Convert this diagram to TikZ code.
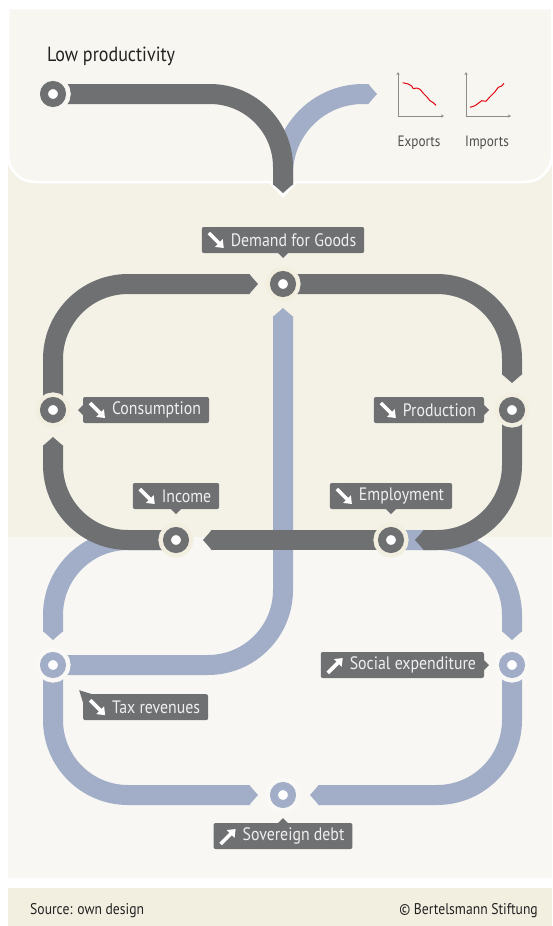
\documentclass[tikz,border=0pt]{standalone}
\usepackage{fontspec}
\setmainfont{PT Sans}[FakeStretch=0.88]
\usetikzlibrary{arrows.meta,positioning,calc}

\definecolor{bandgray}{HTML}{6F7072}
\definecolor{bandblue}{HTML}{A2AEC8}
\definecolor{lblgray}{HTML}{6F7072}
\definecolor{lbltext}{HTML}{EFEFEF}
\definecolor{toppanel}{HTML}{F7F6F1}
\definecolor{midpanel}{HTML}{F4F2E7}
\definecolor{lowpanel}{HTML}{F8F7F3}
\definecolor{footpanel}{HTML}{F2EFE1}
\definecolor{haloup}{HTML}{F2EFE0}
\definecolor{halolow}{HTML}{FAF9F6}
\definecolor{trendred}{HTML}{E30613}
\definecolor{axisgray}{HTML}{8C8C8C}
\definecolor{darktext}{HTML}{222222}

\pgfdeclarelayer{panels}
\pgfdeclarelayer{bands}
\pgfsetlayers{panels,bands,main}

\tikzset{
  gband/.style={draw=bandgray, line width=20pt, rounded corners=75pt,
                -{Triangle[length=9pt,width=20pt]}},
  bband/.style={gband, draw=bandblue},
  gnode/.style={circle, minimum size=18pt, inner sep=0pt, fill=white,
                draw=bandgray, line width=8pt,
                preaction={draw=haloup, line width=17pt}},
  bnode/.style={circle, minimum size=18pt, inner sep=0pt, fill=white,
                draw=bandblue, line width=8pt,
                preaction={draw=halolow, line width=17pt}},
  lbl/.style={fill=lblgray, rounded corners=2pt, text=lbltext,
              font=\fontsize{18}{20}\selectfont, inner xsep=8pt, inner ysep=0pt,
              minimum height=26pt, outer sep=0pt,
              execute at begin node={\hspace*{21pt}}},
  ptr/.style={fill=lblgray},
  icon/.style={draw=white, line width=3.6pt, -{Triangle[length=7pt,width=10.5pt]}},
  chartlbl/.style={text=darktext!80, font=\fontsize{15}{17}\selectfont, inner sep=0pt},
  foottxt/.style={text=darktext, font=\fontsize{15.5}{17}\selectfont, inner sep=0pt}
}

\begin{document}
\begin{tikzpicture}[x=1pt, y=-1pt]
\useasboundingbox (0,0) rectangle (552,926);

% panels
\begin{pgfonlayer}{panels}
  \fill[midpanel] (8,150) rectangle (552,537);
  \fill[lowpanel] (8,537) rectangle (552,878);
  \fill[footpanel] (8,888) rectangle (552,926);
  \path[fill=toppanel, draw=white, line width=2.5pt]
    (8,8) -- (552,8) -- (552,155) to[out=-90,in=0] (525,182) -- (296,182)
    -- (283,196) -- (270,182) -- (35,182) to[out=180,in=-90] (8,155) -- cycle;
\end{pgfonlayer}

% stations
\node[gnode, preaction={draw=toppanel, line width=17pt}] (lowprod) at (53,94) {};
\node[gnode] (dem) at (283,284) {};
\node[gnode] (cons) at (53,410) {};
\node[gnode] (prod) at (512,410) {};
\node[gnode] (inc) at (176,540) {};
\node[gnode] (emp) at (391,540) {};
\node[bnode] (tax) at (53,665) {};
\node[bnode] (soc) at (512,665) {};
\node[bnode] (debt) at (283,795) {};
\coordinate (merge) at (283,193);
\coordinate (split) at (283,185);
\coordinate (expend) at (377,94);

% flows
\begin{pgfonlayer}{bands}
  \draw[bband, rounded corners=80pt] (split) |- (expend);
  \draw[bband, shorten >=25pt] (inc.center) -| (tax.center);
  \draw[bband, shorten >=25pt] (emp.center) -| (soc.center);
  \draw[bband, shorten >=25pt] (tax.center) |- (debt.center);
  \draw[bband, shorten >=27pt] (soc.center) |- (debt.center);
  \draw[bband, shorten >=24pt] (tax.center) -| (dem.center);
  \draw[gband, rounded corners=73pt] (lowprod.center) -| (merge);
  \draw[gband, shorten >=25pt] (cons.center) |- (dem.center);
  \draw[gband, shorten >=27pt] (dem.center) -| (prod.center);
  \draw[gband, shorten >=24pt] (prod.center) |- (emp.center);
  \draw[gband, shorten >=27pt] (emp.center) -- (inc.center);
  \draw[gband, shorten >=27pt] (inc.center) -| (cons.center);
\end{pgfonlayer}

% labels
\node[lbl, above=18pt of dem] (demL) {Demand for Goods};
\node[lbl, right=17pt of cons] (consL) {Consumption};
\node[lbl, left=15pt of prod] (prodL) {Production};
\node[lbl, above=18pt of inc] (incL) {Income};
\node[lbl, above=18pt of emp] (empL) {Employment};
\node[lbl, below right=20pt and 21pt of tax] (taxL) {Tax revenues};
\node[lbl, left=15pt of soc] (socL) {Social expenditure};
\node[lbl, below=15pt of debt] (debtL) {Sovereign debt};

\foreach \l in {demL,incL,empL}
  \fill[ptr] ([xshift=-5pt]\l.south) -- ([xshift=5pt]\l.south) -- ([yshift=-5pt]\l.south) -- cycle;
\fill[ptr] ([xshift=-5pt]debtL.north) -- ([xshift=5pt]debtL.north) -- ([yshift=5pt]debtL.north) -- cycle;
\fill[ptr] ([yshift=-5pt]consL.west) -- ([yshift=5pt]consL.west) -- ([xshift=-5pt]consL.west) -- cycle;
\foreach \l in {prodL,socL}
  \fill[ptr] ([yshift=-5pt]\l.east) -- ([yshift=5pt]\l.east) -- ([xshift=5pt]\l.east) -- cycle;
\fill[ptr] ([shift={(-4pt,4pt)}]taxL.north west) -- ([xshift=9pt]taxL.north west)
  -- ([yshift=-9pt]taxL.north west) -- cycle;

\foreach \l in {demL,consL,incL,prodL,empL,taxL}
  \draw[icon] ([xshift=7pt,yshift=7pt]\l.west) -- ++(15pt,-15pt);
\foreach \l in {socL,debtL}
  \draw[icon] ([xshift=7pt,yshift=-8pt]\l.west) -- ++(15pt,15pt);

% top
\node[anchor=base west, inner sep=0pt, text=darktext, font=\fontsize{20.5}{24}\selectfont]
  (lowtxt) at (47,61) {Low productivity};

\draw[axisgray, line width=0.8pt, {Stealth[length=3pt,width=3pt]}-{Stealth[length=3pt,width=3pt]}]
  (398,72) -- (398,116) -- (444,116);
\draw[trendred, line width=1pt, line join=round] plot coordinates
  {(402.7,82.7) (408.3,84) (411.7,86) (413.3,88.7) (416.7,88) (420,89.3)
   (423.3,93.3) (426.7,96.7) (430,100.7) (433.3,102.7) (436,105.3)};
\draw[axisgray, line width=0.8pt, {Stealth[length=3pt,width=3pt]}-{Stealth[length=3pt,width=3pt]}]
  (466,72) -- (466,116) -- (511,116);
\draw[trendred, line width=1pt, line join=round] plot coordinates
  {(470,107.3) (475,105.7) (478.3,103.3) (481.7,100.7) (486,101.3) (490,96.7)
   (495,91.7) (498.3,87.3) (501.7,86) (504,83.3)};
\node[chartlbl] (explbl) at (419,143) {Exports};
\node[chartlbl] (implbl) at (487,143) {Imports};

% footer
\node[foottxt, anchor=west] (srctxt) at (30,911) {Source: own design};
\node[foottxt, anchor=east] (copytxt) at (538,911) {© Bertelsmann Stiftung};
\end{tikzpicture}
\end{document}
